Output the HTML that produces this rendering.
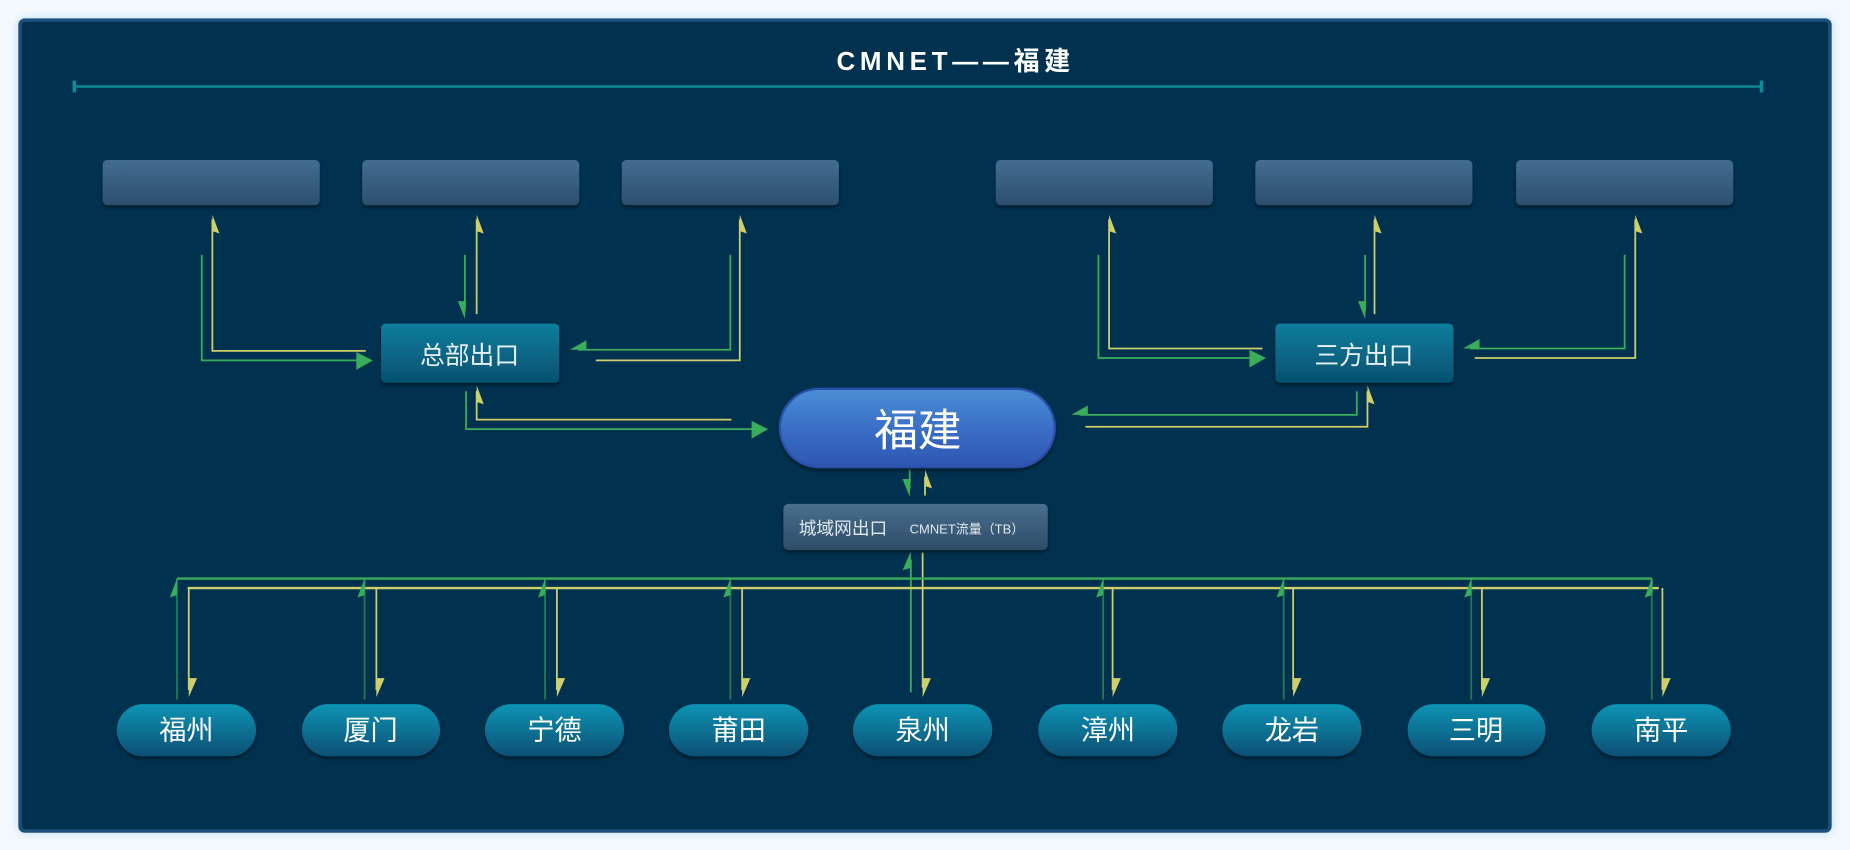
<!DOCTYPE html>
<html><head><meta charset="utf-8"><style>
html,body{margin:0;padding:0;width:1850px;height:850px;overflow:hidden;background:#f4f9fd;}
svg{display:block}
text{font-family:"Liberation Sans","Noto Sans CJK SC",sans-serif;}
</style></head><body>
<svg width="1850" height="850" viewBox="0 0 1568 717" preserveAspectRatio="none" xmlns="http://www.w3.org/2000/svg">
<defs>
<linearGradient id="gb" x1="0" y1="0" x2="0" y2="1"><stop offset="0" stop-color="#436d90"/><stop offset="1" stop-color="#2c4f6e"/></linearGradient>
<linearGradient id="gt" x1="0" y1="0" x2="0" y2="1"><stop offset="0" stop-color="#0a7e9e"/><stop offset="1" stop-color="#06506f"/></linearGradient>
<linearGradient id="gc" x1="0" y1="0" x2="0" y2="1"><stop offset="0" stop-color="#0894b4"/><stop offset="1" stop-color="#0a4f74"/></linearGradient>
<linearGradient id="gf" x1="0" y1="0" x2="0" y2="1"><stop offset="0" stop-color="#4a8fd6"/><stop offset="0.5" stop-color="#3a6fc6"/><stop offset="1" stop-color="#2e55b0"/></linearGradient>
<linearGradient id="gm" x1="0" y1="0" x2="0" y2="1"><stop offset="0" stop-color="#4a6f8e"/><stop offset="1" stop-color="#2d4c68"/></linearGradient>
<filter id="sh" x="-10%" y="-10%" width="120%" height="140%"><feDropShadow dx="0" dy="2" stdDeviation="1.5" flood-color="#000" flood-opacity="0.5"/></filter>
<filter id="glow" x="-5%" y="-5%" width="110%" height="110%"><feDropShadow dx="0" dy="0" stdDeviation="4" flood-color="#8fc6f0" flood-opacity="0.6"/></filter>
</defs>
<rect x="17" y="17" width="1534" height="684" rx="4" fill="#05324f" stroke="#1b4f7c" stroke-width="3" filter="url(#glow)"/>
<text x="810" y="59" text-anchor="middle" fill="#fff" font-size="22" font-weight="bold" letter-spacing="4">CMNET——福建</text>
<line x1="63" y1="73" x2="1493" y2="73" stroke="#0f8a9a" stroke-width="2"/>
<line x1="63" y1="68" x2="63" y2="78" stroke="#0f8a9a" stroke-width="3"/>
<line x1="1493" y1="68" x2="1493" y2="78" stroke="#0f8a9a" stroke-width="3"/>
<g fill="url(#gb)" filter="url(#sh)">
<rect x="87" y="135" width="184" height="38" rx="4"/><rect x="307" y="135" width="184" height="38" rx="4"/><rect x="527" y="135" width="184" height="38" rx="4"/>
<rect x="844" y="135" width="184" height="38" rx="4"/><rect x="1064" y="135" width="184" height="38" rx="4"/><rect x="1285" y="135" width="184" height="38" rx="4"/>
</g>
<g fill="none" stroke-width="1.5">
<polyline points="180,185 180,296 310,296" stroke="#cfcf6a"/>
<polyline points="171,215 171,304 305,304" stroke="#3aad5a"/>
<polyline points="404,185 404,265" stroke="#cfcf6a"/>
<polyline points="394,215 394,262" stroke="#3aad5a"/>
<polyline points="505,304 627,304 627,185" stroke="#cfcf6a"/>
<polyline points="619,215 619,295 490,295" stroke="#3aad5a"/>
<polyline points="404,330 404,354 620,354" stroke="#cfcf6a"/>
<polyline points="395,330 395,362 642,362" stroke="#3aad5a"/>
<polyline points="940,185 940,294 1070,294" stroke="#cfcf6a"/>
<polyline points="931,215 931,302 1066,302" stroke="#3aad5a"/>
<polyline points="1165,185 1165,265" stroke="#cfcf6a"/>
<polyline points="1157,215 1157,262" stroke="#3aad5a"/>
<polyline points="1250,302 1386,302 1386,185" stroke="#cfcf6a"/>
<polyline points="1377,215 1377,294 1246,294" stroke="#3aad5a"/>
<polyline points="920,360 1159,360 1159,330" stroke="#cfcf6a"/>
<polyline points="1150,330 1150,350 915,350" stroke="#3aad5a"/>
<line x1="771" y1="396" x2="771" y2="412" stroke="#3aad5a"/>
<line x1="784" y1="418" x2="784" y2="402" stroke="#cfcf6a"/>
<line x1="772" y1="584" x2="772" y2="472" stroke="#3aad5a"/>
<line x1="782" y1="466" x2="782" y2="580" stroke="#cfcf6a"/>
<line x1="150" y1="488" x2="1400" y2="488" stroke="#3aad5a" stroke-width="2"/>
<line x1="159" y1="496" x2="1406" y2="496" stroke="#cfcf6a" stroke-width="2"/>
<line x1="1400" y1="488" x2="1400" y2="500" stroke="#3aad5a"/>
</g>
<g fill="#3aad5a">
<polygon points="316,304 302,297 302,312"/>
<polygon points="394,269 388,254 395,254"/>
<polygon points="483,295 497,287 497,295"/>
<polygon points="651,362 637,355 637,370"/>
<polygon points="1073,302 1059,295 1059,310"/>
<polygon points="1157,269 1151,254 1158,254"/>
<polygon points="1240,294 1254,286 1254,294"/>
<polygon points="908,350 922,342 922,350"/>
<polygon points="771,419 765,404 772,404"/>
<polygon points="772,465 765,481 772,479"/>
</g>
<g fill="#cfcf6a">
<polygon points="180,181 186,197 180,195"/>
<polygon points="404,181 410,197 404,195"/>
<polygon points="627,181 633,197 627,195"/>
<polygon points="404,325 410,341 404,339"/>
<polygon points="940,181 946,197 940,195"/>
<polygon points="1165,181 1171,197 1165,195"/>
<polygon points="1386,181 1392,197 1386,195"/>
<polygon points="1159,325 1165,341 1159,339"/>
<polygon points="784,396 790,412 784,410"/>
</g>
<g stroke-width="1.5" fill="none">
<line x1="150" y1="488" x2="150" y2="590" stroke="#3aad5a" stroke-opacity="0.6"/><line x1="160" y1="496" x2="160" y2="582" stroke="#cfcf6a"/>
<line x1="309" y1="488" x2="309" y2="590" stroke="#3aad5a" stroke-opacity="0.6"/><line x1="319" y1="496" x2="319" y2="582" stroke="#cfcf6a"/>
<line x1="462" y1="488" x2="462" y2="590" stroke="#3aad5a" stroke-opacity="0.6"/><line x1="472" y1="496" x2="472" y2="582" stroke="#cfcf6a"/>
<line x1="619" y1="488" x2="619" y2="590" stroke="#3aad5a" stroke-opacity="0.6"/><line x1="629" y1="496" x2="629" y2="582" stroke="#cfcf6a"/>
<line x1="935" y1="488" x2="935" y2="590" stroke="#3aad5a" stroke-opacity="0.6"/><line x1="943" y1="496" x2="943" y2="582" stroke="#cfcf6a"/>
<line x1="1088" y1="488" x2="1088" y2="590" stroke="#3aad5a" stroke-opacity="0.6"/><line x1="1096" y1="496" x2="1096" y2="582" stroke="#cfcf6a"/>
<line x1="1247" y1="488" x2="1247" y2="590" stroke="#3aad5a" stroke-opacity="0.6"/><line x1="1256" y1="496" x2="1256" y2="582" stroke="#cfcf6a"/>
<line x1="1400" y1="488" x2="1400" y2="590" stroke="#3aad5a" stroke-opacity="0.6"/><line x1="1409" y1="496" x2="1409" y2="582" stroke="#cfcf6a"/>
</g>
<g fill="#3aad5a">
<polygon points="150,488 144,504 150,502"/><polygon points="309,488 303,504 309,502"/><polygon points="462,488 456,504 462,502"/><polygon points="619,488 613,504 619,502"/>
<polygon points="935,488 929,504 935,502"/><polygon points="1088,488 1082,504 1088,502"/><polygon points="1247,488 1241,504 1247,502"/><polygon points="1400,488 1394,504 1400,502"/>
</g>
<g fill="#cfcf6a">
<polygon points="160,588 160,572 167,572"/><polygon points="319,588 319,572 326,572"/><polygon points="472,588 472,572 479,572"/><polygon points="629,588 629,572 636,572"/>
<polygon points="782,588 782,572 789,572"/><polygon points="943,588 943,572 950,572"/><polygon points="1096,588 1096,572 1103,572"/><polygon points="1256,588 1256,572 1263,572"/><polygon points="1409,588 1409,572 1416,572"/>
</g>
<g filter="url(#sh)">
<rect x="323" y="273" width="151" height="50" rx="4" fill="url(#gt)"/>
<rect x="1081" y="273" width="151" height="50" rx="4" fill="url(#gt)"/>
<rect x="661" y="328" width="233" height="66" rx="33" fill="url(#gf)" stroke="#2a4fa8" stroke-width="2"/>
<rect x="664" y="425" width="224" height="39" rx="4" fill="url(#gm)"/>
</g>
<text x="398" y="307" text-anchor="middle" fill="#e8f2fa" font-size="21">总部出口</text>
<text x="1156" y="307" text-anchor="middle" fill="#e8f2fa" font-size="21">三方出口</text>
<text x="778" y="376" text-anchor="middle" fill="#fff" font-size="37">福建</text>
<text x="677" y="451" fill="#e0e8f0" font-size="15">城域网出口</text>
<text x="771" y="450" fill="#e0e8f0" font-size="11">CMNET流量（TB）</text>
<g filter="url(#sh)" fill="url(#gc)">
<rect x="99" y="594" width="118" height="44" rx="22"/>
<rect x="256" y="594" width="117" height="44" rx="22"/>
<rect x="411" y="594" width="118" height="44" rx="22"/>
<rect x="567" y="594" width="118" height="44" rx="22"/>
<rect x="723" y="594" width="118" height="44" rx="22"/>
<rect x="880" y="594" width="118" height="44" rx="22"/>
<rect x="1036" y="594" width="118" height="44" rx="22"/>
<rect x="1193" y="594" width="117" height="44" rx="22"/>
<rect x="1349" y="594" width="118" height="44" rx="22"/>
</g>
<g fill="#fff" font-size="23" text-anchor="middle">
<text x="158" y="624">福州</text><text x="314" y="624">厦门</text><text x="470" y="624">宁德</text>
<text x="626" y="624">莆田</text><text x="782" y="624">泉州</text><text x="939" y="624">漳州</text>
<text x="1095" y="624">龙岩</text><text x="1251" y="624">三明</text><text x="1408" y="624">南平</text>
</g>
</svg>
</body></html>
